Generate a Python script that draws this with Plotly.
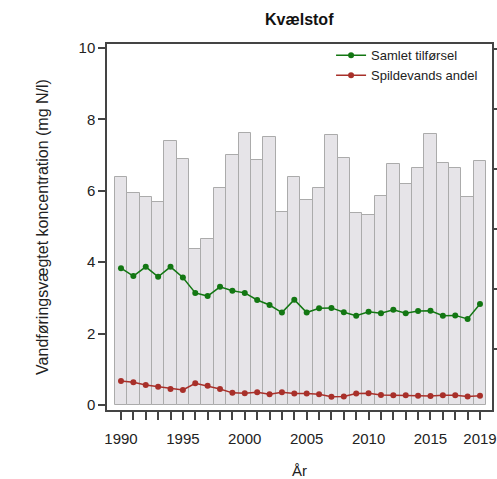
import plotly.graph_objects as go

years = list(range(1990, 2020))
bar_values = [6.39, 5.95, 5.83, 5.69, 7.39, 6.90, 4.36, 4.64, 6.07, 7.00,
              7.63, 6.86, 7.50, 5.40, 6.38, 5.75, 6.07, 7.55, 6.91, 5.38,
              5.31, 5.85, 6.75, 6.19, 6.64, 7.60, 6.77, 6.64, 5.83, 6.82]
samlet = [3.83, 3.61, 3.87, 3.59, 3.87, 3.57, 3.14, 3.05, 3.31, 3.20,
          3.14, 2.94, 2.80, 2.59, 2.95, 2.59, 2.71, 2.72, 2.60, 2.50,
          2.61, 2.57, 2.67, 2.57, 2.63, 2.64, 2.50, 2.51, 2.41, 2.83]
spilde = [0.67, 0.64, 0.56, 0.51, 0.45, 0.42, 0.61, 0.54, 0.45, 0.34,
          0.33, 0.36, 0.30, 0.36, 0.32, 0.32, 0.30, 0.23, 0.24, 0.32,
          0.33, 0.28, 0.27, 0.27, 0.26, 0.25, 0.27, 0.27, 0.24, 0.26]
label_years = [1990, 1995, 2000, 2005, 2010, 2015, 2019]
tick_text = [str(y) if y in label_years else "" for y in years]
y_ticks = [0, 2, 4, 6, 8, 10]
y2_ticks = [1, 2, 3, 4, 5, 6]

font = "Liberation Sans, Arial, sans-serif"
green = "#137713"
red = "#A8302A"

fig = go.Figure()
fig.add_trace(go.Bar(x=years, y=bar_values, width=1.0, showlegend=False,
                     marker=dict(color="#E6E4E8", line=dict(color="#ABABAB", width=1))))
fig.add_trace(go.Scatter(x=years, y=samlet, mode="lines+markers", name="Samlet tilførsel",
                         line=dict(color=green, width=1.5), marker=dict(color=green, size=6)))
fig.add_trace(go.Scatter(x=years, y=spilde, mode="lines+markers", name="Spildevands andel",
                         line=dict(color=red, width=1.5), marker=dict(color=red, size=6)))
fig.add_trace(go.Scatter(x=[None], y=[None], yaxis="y2", showlegend=False, hoverinfo="skip"))

fig.update_layout(
    width=497, height=479,
    margin=dict(l=107, r=5, t=44, b=69, autoexpand=False),
    paper_bgcolor="white", plot_bgcolor="white",
    font=dict(family=font, size=15, color="#222222"),
    bargap=0,
    showlegend=True,
    legend=dict(x=0.582, y=1.01, xanchor="left", yanchor="top", bgcolor="rgba(0,0,0,0)",
                font=dict(size=13, color="#222222"), tracegroupgap=0),
    xaxis=dict(range=[1988.87, 2019.97], tickvals=years, ticktext=tick_text,
               ticks="outside", ticklen=8, tickcolor="#444444", tickwidth=1.5,
               ticklabelstandoff=6,
               showline=True, linecolor="#444444", linewidth=1.5, mirror=True,
               showgrid=False, zeroline=False, automargin=False,
               title=dict(text="År", standoff=20, font=dict(size=15))),
    yaxis=dict(range=[-0.14, 10.11], tickvals=y_ticks, ticks="outside", ticklen=7,
               tickcolor="#444444", tickwidth=1.5,
               showline=True, linecolor="#444444", linewidth=1.5, mirror=True,
               showgrid=False, zeroline=False, automargin=False,
               title=dict(text="Vandføringsvægtet koncentration (mg N/l)", standoff=26,
                          font=dict(size=16))),
    yaxis2=dict(overlaying="y", side="right", range=[-0.017, 6.083], tickvals=y2_ticks,
                showticklabels=False, ticks="outside", ticklen=6, tickcolor="#444444",
                tickwidth=1.5, showgrid=False, zeroline=False, showline=False,
                automargin=False),
    annotations=[dict(text="<b>Kvælstof</b>", xref="paper", yref="paper", x=0.5,
                      y=1 + 24 / 366, xanchor="center", yanchor="middle", showarrow=False,
                      font=dict(size=16, color="#111111"))],
)

fig.write_html("out.html", config={"displayModeBar": False},
               post_script="document.body.style.margin='0';document.body.style.padding='0';")
